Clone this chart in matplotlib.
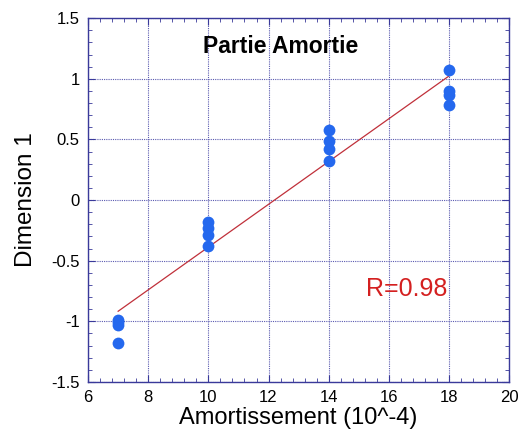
import matplotlib
matplotlib.use("Agg")
import matplotlib.pyplot as plt
import numpy as np
from matplotlib.ticker import FuncFormatter, MultipleLocator

plt.rcParams.update({
    "font.family": ["Liberation Sans", "DejaVu Sans"],
    "font.size": 12,
})

# amortissement levels (10^-4) and dimension 1 scores
amort = [7, 7, 7, 7, 10, 10, 10, 10, 14, 14, 14, 14, 18, 18, 18, 18]
dim1 = [-0.99, -1.01, -1.03, -1.18,
        -0.18, -0.23, -0.29, -0.38,
        0.58, 0.49, 0.42, 0.32,
        1.07, 0.90, 0.87, 0.78]
r_label = "R=0.98"

AXIS_COLOR = "#3a3a9a"
GRID_COLOR = "#5a5ab0"
POINT_COLOR = "#2468ee"
LINE_COLOR = "#c0303a"

x = np.asarray(amort, dtype=float)
y = np.asarray(dim1, dtype=float)
slope, icpt = np.polyfit(x, y, 1)
xf = np.array([x.min(), x.max()])

fig = plt.figure(figsize=(5.18, 4.32), dpi=100)
ax = fig.add_axes([0.170, 0.116, 0.813, 0.842])

ax.plot(xf, slope * xf + icpt, color=LINE_COLOR, lw=0.9, zorder=2)
ax.plot(x, y, "o", color=POINT_COLOR, ms=8.5, mec="none", zorder=3)

ax.set_xlim(6, 20)
ax.set_ylim(-1.5, 1.5)
ax.xaxis.set_major_locator(MultipleLocator(2))
ax.xaxis.set_minor_locator(MultipleLocator(0.4))
ax.yaxis.set_major_locator(MultipleLocator(0.5))
ax.yaxis.set_minor_locator(MultipleLocator(0.1))
ax.yaxis.set_major_formatter(FuncFormatter(lambda v, _: f"{v:g}"))

ax.grid(True, which="major", color=GRID_COLOR, ls=(0, (1, 1)), lw=0.8)
ax.set_axisbelow(True)
for s in ax.spines.values():
    s.set_color(AXIS_COLOR)
    s.set_linewidth(1.0)
ax.tick_params(which="both", direction="in", top=True, right=True,
               color=AXIS_COLOR)
ax.tick_params(which="major", length=5, pad=6)
ax.tick_params(which="minor", length=3)

ax.set_xlabel("Amortissement (10^-4)", fontsize=17, labelpad=1)
ax.set_ylabel("Dimension 1", fontsize=17.5, labelpad=10)

ax.text(12.4, 1.27, "Partie Amortie", fontsize=16.5, fontweight="bold",
        ha="center", va="center")
ax.text(16.6, -0.73, r_label, fontsize=18, color="#d42020",
        ha="center", va="center")

fig.savefig("out.png", dpi=100)
